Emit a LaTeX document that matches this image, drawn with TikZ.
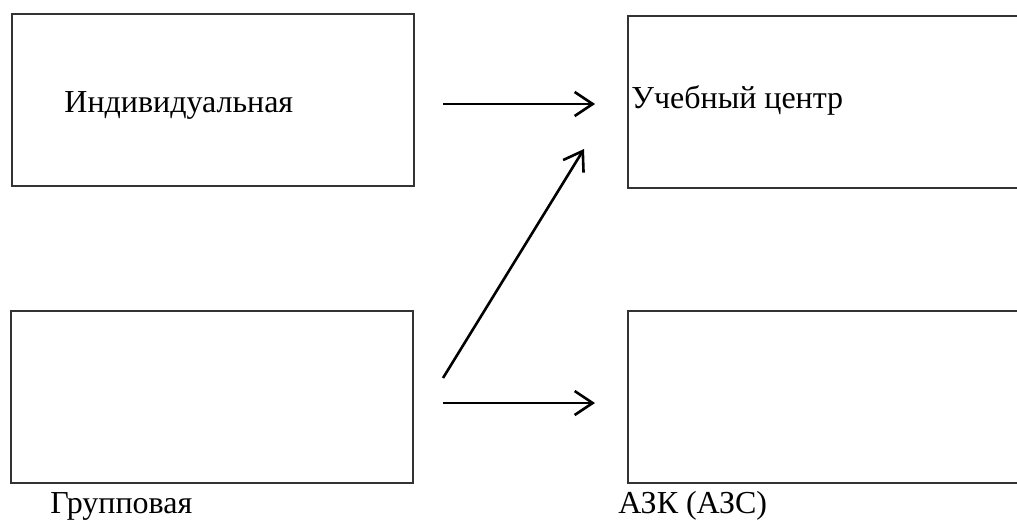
\documentclass[tikz,border=0pt]{standalone}
\usepackage{fontspec}
\setmainfont{Liberation Serif}
\usetikzlibrary{arrows.meta}

\tikzset{
  box/.style={draw=black!80,line width=.65pt,minimum width=201pt,minimum height=86pt,anchor=north west,inner sep=0pt,outer sep=0pt},
  lbl/.style={font=\fontsize{16}{19}\selectfont,inner sep=0pt},
  arr/.style={line width=1.3pt,-{Straight Barb[length=9pt,width=12pt,line width=1.3pt]}}
}

\begin{document}
\begin{tikzpicture}[x=.5pt,y=-.5pt]
    \useasboundingbox (0,0) rectangle (1017,520);
    \clip (0,0) rectangle (1017,520);
    % boxes
    \node[box] (indbox) at (12,14) {};
    \node[box] (grpbox) at (11,311) {};
    \node[box] (centrbox) at (628,16) {};
    \node[box] (azkbox) at (628,311) {};
    % labels
    \node[lbl,anchor=base west] (ind) at (64,112) {Индивидуальная};
    \node[lbl,anchor=base west] (centr) at (631,108) {Учебный центр};
    \node[lbl,anchor=base west] (grp) at (50,513) {Групповая};
    \node[lbl,anchor=base west] (azk) at (618,513) {АЗК (АЗС)};
    % arrows
    \coordinate (a1) at (443,104);
    \coordinate (b1) at (595,104);
    \coordinate (a2) at (443,378);
    \coordinate (b2) at (584,149);
    \coordinate (a3) at (443,403);
    \coordinate (b3) at (595,403);
    \draw[arr](a1)--(b1);
    \draw[arr](a2)--(b2);
    \draw[arr](a3)--(b3);
\end{tikzpicture}
\end{document}
